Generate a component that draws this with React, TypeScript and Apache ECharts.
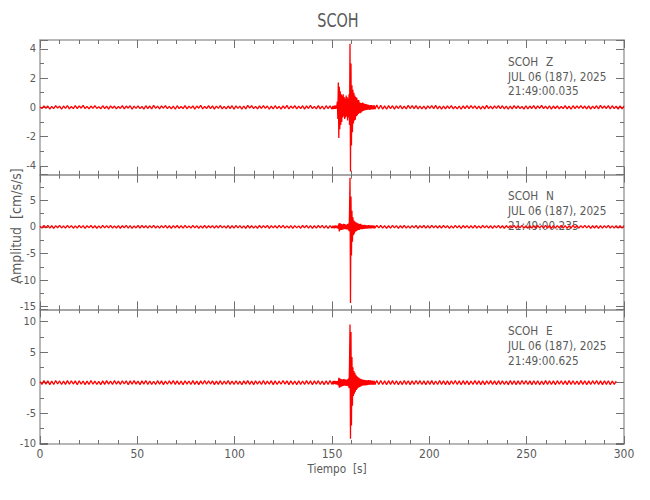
import React, { useEffect, useRef } from "react";
import * as echarts from "echarts";

// ---------- labels ----------
const STATION = "SCOH";
const CHANNELS = ["Z", "N", "E"];
const DATE_LABEL = "JUL 06 (187), 2025";
const START_TIMES = ["21:49:00.035", "21:49:00.235", "21:49:00.625"];
const X_TITLE = "Tiempo  [s]";
const Y_TITLE = "Amplitud  [cm/s/s]";

// ---------- axes ----------
const X_MIN = 0;
const X_MAX = 300;
const X_STEP = 50;
const Y_MIN = [-4.6, -15.5, -10.05];
const Y_MAX = [4.6, 9.8, 12.0];

// ---------- traces (values in 0.01 cm/s/s) ----------
// time spans [start, end] in seconds of each recorded segment
const SPAN_PRE = [0, 150];
const SPAN_EVENT = [150.5, 171.75];
const SPAN_POST_Z = [172, 300];
const SPAN_POST_N = [172, 300];
const SPAN_POST_E = [172, 296];

const zPre = [
  3, -8, 10, -6, 9, -12, 7, -9, 11, -5, 8, -13, 9, -7, 12, -10, 6, -9, 11, -8,
  10, -6, 13, -9, 7, -11, 9, -7, 12, -8, 5, -10, 11, -9, 8, -12, 10, -6, 9, -11,
  7, -8, 12, -10, 9, -6, 11, -13, 8, -7, 10, -9, 6, -12, 11, -8, 9, -10, 13, -7,
  8, -11, 10, -6, 12, -9, 7, -10, 9, -13, 11, -8, 6, -9, 12, -11, 8, -7, 10, -12,
  9, -6, 13, -10, 7, -8, 11, -9, 10, -12, 8, -7, 12, -11, 6, -10, 9, -8, 11, -13,
  10, -7, 8, -12, 9, -10, 13, -6, 11, -9, 7, -11, 10, -8, 12, -7, 9, -13, 8, -10,
  11, -9, 6, -12, 10, -8, 13, -11, 9, -7, 12, -10, 8, -9, 11, -12, 10, -8, 13, -9,
  7, -11, 12, -10, 9, -13, 11, -8, 10, -12,
];
const zEvent = [
  10, -12, 9, -11, 13, -10, 12, -9, 11, 40, -80, 170, -210, 140, -150, 110, -120, 90, -100, 80,
  -70, 90, -60, 70, -80, 60, -70, 80, -60, 70, -90, 60, -70, 90, -120, 435, -438, 300, -260, 150,
  -170, 120, -110, 100, -90, 80, -85, 70, -60, 65, -55, 50, -45, 50, -40, 35, -40, 30, -35, 30,
  -28, 32, -25, 28, -22, 25, -20, 22, -18, 20, -17, 19, -15, 18, -16, 14, -17, 15, -13, 16,
  -14, 12, -15, 13, -12, 14,
];
const zPost = [
  -13, 15, -11, 14, -12, 10, -13, 12, -9, 11, -12, 10, -8, 12, -11, 9, -10, 13, -8, 11,
  -9, 12, -10, 8, -11, 9, -12, 10, -7, 11, -9, 13, -10, 8, -12, 9, -11, 10, -8, 12,
  -10, 7, -11, 9, -13, 10, -8, 11, -9, 12, -7, 10, -11, 8, -12, 9, -10, 13, -9, 8,
  -11, 10, -7, 12, -9, 11, -10, 8, -13, 9, -11, 12, -8, 10, -9, 7, -12, 11, -10, 9,
  -8, 12, -11, 10, -7, 13, -9, 8, -10, 11, -12, 9, -8, 10, -11, 7, -9, 12, -10, 8,
  -13, 11, -9, 10, -7, 12, -8, 9, -11, 10, -12, 8, -9, 11, -10, 13, -7, 9, -8, 12,
  -10, 11, -9, 8, -12, 10, -11, 9,
];

const nPre = [
  12, -22, 25, -18, 27, -24, 20, -28, 23, -17, 26, -21, 19, -25, 28, -20, 22, -26, 18, -23,
  27, -19, 24, -28, 21, -16, 25, -23, 20, -27, 18, -24, 26, -21, 23, -19, 28, -25, 17, -22,
  24, -27, 20, -18, 26, -23, 22, -29, 19, -21, 25, -24, 27, -17, 21, -26, 23, -20, 28, -22,
  18, -25, 24, -19, 27, -23, 20, -28, 22, -18, 25, -26, 21, -24, 29, -20, 17, -23, 26, -21,
  23, -27, 19, -22, 28, -25, 20, -18, 24, -26, 22, -21, 27, -19, 18, -24, 25, -28, 21, -23,
  26, -20, 23, -25, 19, -27, 28, -22, 20, -24, 17, -26, 25, -21, 22, -18, 27, -29, 24, -20,
  21, -23, 26, -19, 28, -25, 18, -22, 24, -27, 23, -20, 19, -26, 25, -21, 27, -24, 22, -28,
  20, -23, 25, -19, 26, -24, 21, -27, 23, -22,
];
const nEvent = [
  22, -25, 18, -28, 24, -20, 27, -23, 19, -26, 25, -40, 60, -85, 70, -65, 55, -60, 50, -55,
  45, -50, 55, -45, 50, -40, 45, -50, 40, -45, 50, -55, 60, -80, 250, 920, -1430, 570, -540, 300,
  -280, 180, -160, 120, -130, 100, -90, 85, -80, 75, -70, 65, -60, 55, -60, 50, -45, 55, -45, 40,
  -42, 38, -40, 35, -38, 36, -34, 32, -35, 30, -32, 30, -28, 31, -27, 29, -30, 26, -28, 27,
  -25, 28, -26, 24, -27, 25,
];
const nPost = [
  -24, 27, -21, 25, -26, 22, -28, 20, -23, 26, -19, 24, -27, 21, -22, 28, -25, 19, -24, 23,
  -20, 26, -27, 22, -18, 25, -23, 21, -26, 28, -19, 24, -22, 20, -25, 27, -21, 23, -28, 19,
  -24, 26, -20, 22, -27, 25, -18, 23, -26, 21, -24, 28, -22, 19, -25, 27, -20, 24, -23, 21,
  -28, 22, -19, 26, -24, 20, -27, 25, -21, 23, -18, 26, -25, 22, -20, 27, -23, 19, -26, 24,
  -22, 21, -28, 25, -19, 23, -24, 26, -21, 20, -27, 22, -25, 24, -18, 28, -23, 21, -26, 19,
  -24, 27, -20, 22, -25, 23, -21, 26, -19, 24, -28, 20, -22, 25, -27, 21, -23, 24, -20, 26,
  -22, 19, -25, 23, -24, 21, -26, 22,
];

const ePre = [
  15, -28, 32, -24, 29, -33, 26, -30, 34, -22, 27, -31, 25, -29, 33, -26, 30, -23, 28, -34,
  31, -25, 27, -32, 24, -29, 35, -27, 26, -30, 22, -33, 29, -28, 32, -24, 27, -31, 34, -26,
  25, -29, 31, -23, 30, -35, 28, -27, 33, -25, 26, -32, 29, -24, 34, -30, 27, -28, 23, -31,
  32, -26, 29, -33, 25, -27, 30, -24, 35, -29, 28, -31, 26, -34, 31, -25, 27, -30, 33, -28,
  24, -32, 29, -26, 34, -27, 30, -23, 28, -33, 25, -29, 32, -31, 27, -24, 35, -28, 26, -30,
  31, -27, 23, -34, 29, -25, 33, -28, 26, -32, 30, -24, 27, -31, 34, -29, 25, -26, 32, -33,
  28, -30, 24, -27, 35, -25, 29, -32, 31, -28, 26, -34, 30, -29, 27, -31, 33, -26, 28, -35,
  29, -27, 32, -30, 25, -33, 31, -28, 34, -29,
];
const eEvent = [
  25, -30, 28, -22, 31, -27, 24, -29, 26, -32, 28, -45, 80, -85, 70, -75, 60, -65, 55, -60,
  50, -55, 60, -50, 55, -45, 50, -55, 45, -50, 55, -60, 70, -90, 300, 950, -920, 830, -700, 420,
  -380, 250, -220, 190, -180, 160, -150, 130, -120, 110, -100, 90, -85, 80, -75, 70, -65, 60, -60, 55,
  -50, 52, -48, 45, -46, 42, -44, 40, -42, 38, -40, 38, -36, 40, -35, 37, -34, 36, -33, 35,
  -32, 34, -33, 31, -32, 30,
];
const ePost = [
  -33, 35, -30, 34, -31, 29, -36, 32, -28, 33, -30, 31, -34, 27, -32, 35, -29, 30, -33, 28,
  -31, 34, -27, 32, -30, 29, -35, 31, -28, 33, -32, 26, -30, 34, -29, 31, -33, 28, -32, 30,
  -27, 35, -31, 29, -34, 32, -28, 30, -33, 27, -30, 34, -29, 31, -32, 28, -35, 30, -27, 33,
  -31, 29, -34, 32, -28, 31, -30, 27, -33, 35, -29, 30, -32, 28, -31, 34, -27, 32, -30, 29,
  -33, 31, -28, 30, -34, 27, -32, 33, -29, 31, -30, 28, -35, 32, -27, 30, -31, 29, -33, 34,
  -28, 31, -30, 27, -32, 33, -29, 30, -34, 28, -31, 32, -27, 35, -30, 29, -33, 31, -28, 30,
  -32, 27, -29, 24,
];

// ---------- styling ----------
const FONT = "'DejaVu Sans Condensed', 'Liberation Sans Narrow', 'Liberation Sans', sans-serif";
const TEXT_COLOR = "#5a5a5a";
const AXIS_COLOR = "#a0a0a0";
const TICK_COLOR = "#707070";
const TRACE_COLOR = "#ff0000";
const GRID_LEFT = 40;
const GRID_RIGHT = 26;
const GRID_TOP = 40;
const PANEL_H = 134.67;

type Seg = { span: number[]; values: number[] };

function buildTrace(segs: Seg[]): number[][] {
  const out: number[][] = [];
  segs.forEach((s) => {
    const n = s.values.length;
    const dt = (s.span[1] - s.span[0]) / (n - 1);
    s.values.forEach((v, i) => out.push([s.span[0] + i * dt, v / 100]));
  });
  return out;
}

export default function App() {
  const ref = useRef<HTMLDivElement>(null);

  useEffect(() => {
    if (!ref.current) return;
    const chart = echarts.init(ref.current, undefined, { renderer: "svg" });

    const traces = [
      buildTrace([
        { span: SPAN_PRE, values: zPre },
        { span: SPAN_EVENT, values: zEvent },
        { span: SPAN_POST_Z, values: zPost },
      ]),
      buildTrace([
        { span: SPAN_PRE, values: nPre },
        { span: SPAN_EVENT, values: nEvent },
        { span: SPAN_POST_N, values: nPost },
      ]),
      buildTrace([
        { span: SPAN_PRE, values: ePre },
        { span: SPAN_EVENT, values: eEvent },
        { span: SPAN_POST_E, values: ePost },
      ]),
    ];

    const grids: any[] = [];
    const xAxes: any[] = [];
    const yAxes: any[] = [];
    const series: any[] = [];
    const graphics: any[] = [];

    const lineStyle = { color: AXIS_COLOR, width: 1.5 };
    const tickStyle = { color: TICK_COLOR, width: 1 };

    CHANNELS.forEach((ch, i) => {
      const top = GRID_TOP + i * PANEL_H;
      grids.push({ left: GRID_LEFT, right: GRID_RIGHT, top, height: PANEL_H });
      const isLast = i === CHANNELS.length - 1;
      ["bottom", "top"].forEach((pos) => {
        xAxes.push({
          type: "value",
          gridIndex: i,
          position: pos,
          min: X_MIN,
          max: X_MAX,
          interval: X_STEP,
          axisLine: { show: true, onZero: false, lineStyle },
          axisTick: { show: true, inside: true, length: 8, lineStyle: tickStyle },
          minorTick: { show: true, splitNumber: 5, length: 4, lineStyle: tickStyle },
          splitLine: { show: false },
          minorSplitLine: { show: false },
          axisLabel: {
            show: isLast && pos === "bottom",
            color: TEXT_COLOR,
            fontFamily: FONT,
            fontSize: 12,
            margin: 4,
          },
        });
      });
      ["left", "right"].forEach((pos) => {
        yAxes.push({
          type: "value",
          gridIndex: i,
          position: pos,
          min: Y_MIN[i],
          max: Y_MAX[i],
          splitNumber: 5,
          axisLine: { show: true, onZero: false, lineStyle },
          axisTick: { show: true, inside: true, length: 8, lineStyle: tickStyle },
          minorTick: { show: true, splitNumber: 2, length: 4, lineStyle: tickStyle },
          splitLine: { show: false },
          minorSplitLine: { show: false },
          axisLabel: {
            show: pos === "left",
            showMinLabel: false,
            showMaxLabel: false,
            color: TEXT_COLOR,
            fontFamily: FONT,
            fontSize: 11,
            margin: 4,
          },
        });
      });
      series.push({
        type: "line",
        xAxisIndex: i * 2,
        yAxisIndex: i * 2,
        data: traces[i],
        showSymbol: false,
        symbol: "none",
        silent: true,
        lineStyle: { color: TRACE_COLOR, width: 1.3 },
        itemStyle: { color: TRACE_COLOR },
      });

      const tx = 508;
      const labelStyle = (text: string) => ({
        text,
        fill: TEXT_COLOR,
        font: `13px ${FONT}`,
        textAlign: "left",
        textVerticalAlign: "middle",
        align: "left",
        verticalAlign: "middle",
      });
      const sx = 0.9;
      graphics.push(
        { type: "text", x: tx, y: top + 21.3, scaleX: sx, style: labelStyle(STATION), silent: true },
        { type: "text", x: 546, y: top + 21.3, scaleX: sx, style: labelStyle(ch), silent: true },
        { type: "text", x: tx, y: top + 36.5, scaleX: sx, style: labelStyle(DATE_LABEL), silent: true },
        { type: "text", x: tx, y: top + 51, scaleX: sx, style: labelStyle(START_TIMES[i]), silent: true }
      );
    });

    const centered = (text: string, size: number) => ({
      text,
      fill: TEXT_COLOR,
      font: `${size}px ${FONT}`,
      textAlign: "center",
      textVerticalAlign: "middle",
      align: "center",
      verticalAlign: "middle",
    });
    graphics.push(
      { type: "text", x: 338, y: 20, scaleX: 0.8, style: centered(STATION, 20), silent: true },
      { type: "text", x: 337, y: 469, scaleX: 0.9, style: centered(X_TITLE, 13), silent: true },
      {
        type: "text",
        x: 16,
        y: 226,
        rotation: Math.PI / 2,
        style: centered(Y_TITLE, 14),
        silent: true,
      }
    );

    chart.setOption({
      animation: false,
      backgroundColor: "#ffffff",
      grid: grids,
      xAxis: xAxes,
      yAxis: yAxes,
      series,
      graphic: graphics,
    });

    return () => chart.dispose();
  }, []);

  return (
    <div
      ref={ref}
      style={{ position: "fixed", left: 0, top: 0, width: 650, height: 500, background: "#fff" }}
    />
  );
}
